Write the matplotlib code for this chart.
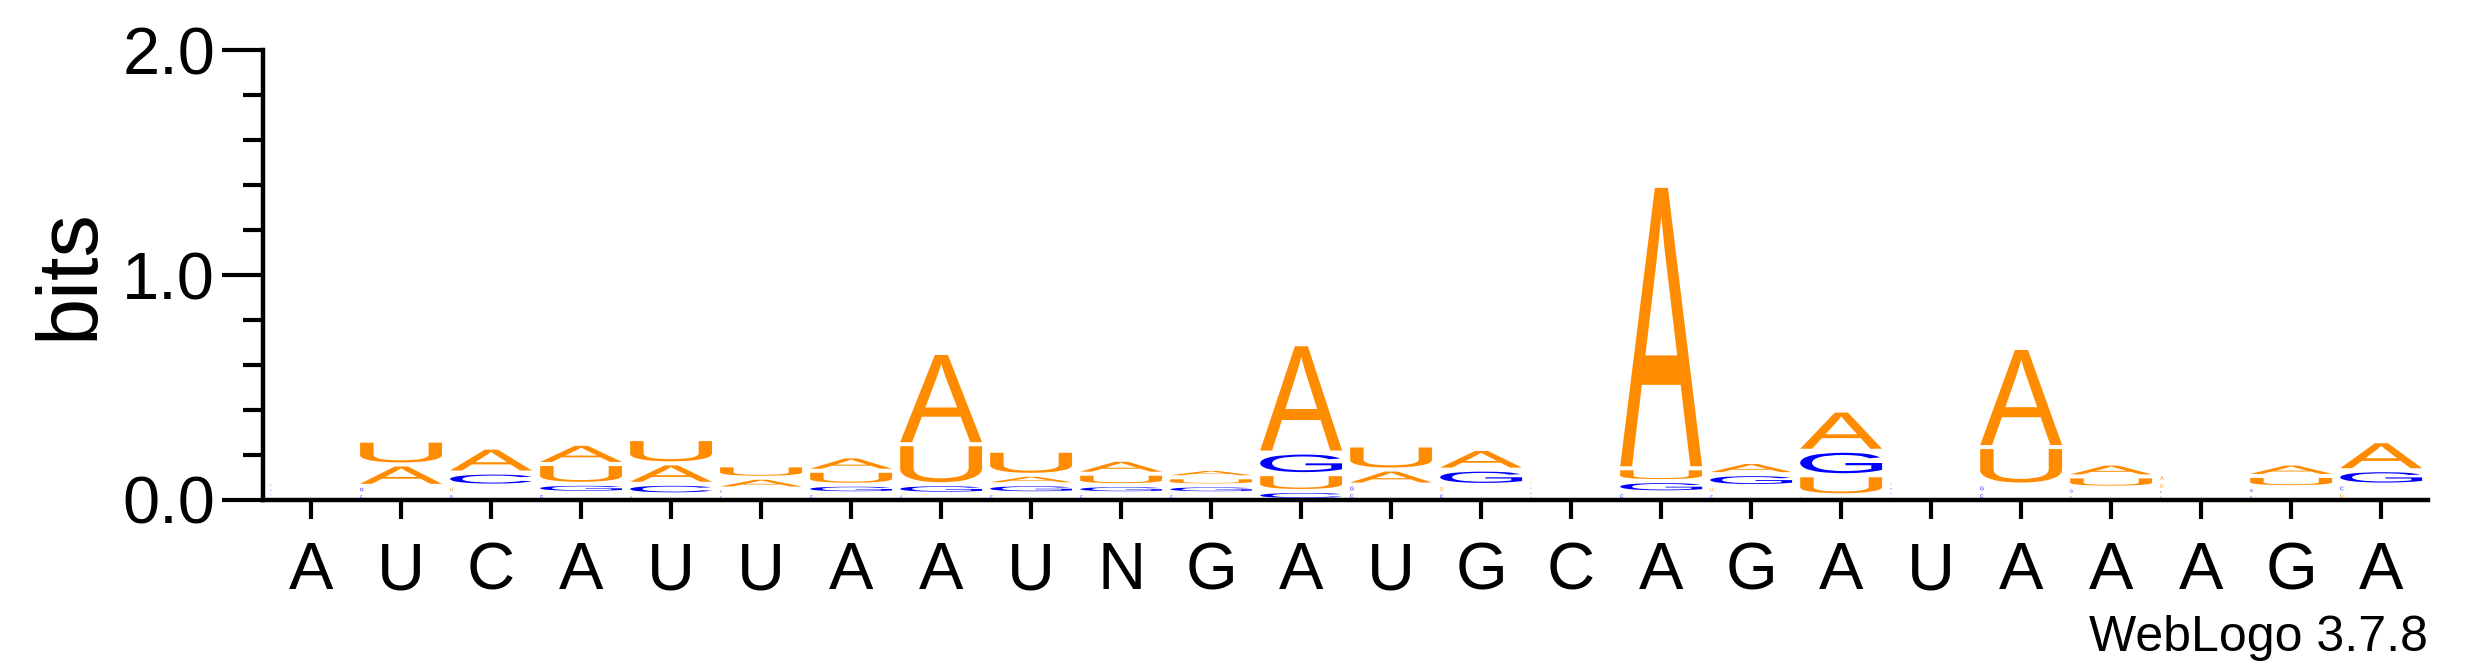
import numpy as np
import matplotlib
matplotlib.use("Agg")
import matplotlib.pyplot as plt
from matplotlib.textpath import TextPath
from matplotlib.font_manager import FontProperties
from matplotlib.patches import PathPatch
from matplotlib.transforms import Affine2D

# consensus sequence shown under the logo
seq_labels = list("AUCAUUAAUNGAUGCAGAUAAAGA")

# information content (bits) of each base per column
bits_A = [0.026, 0.095, 0.111, 0.090, 0.091, 0.048, 0.064, 0.406, 0.042, 0.062, 0.037, 0.482,
          0.067, 0.092, 0.025, 1.257, 0.054, 0.179, 0.024, 0.441, 0.057, 0.0345, 0.055, 0.129]
bits_C = [0.018, 0.030, 0.058, 0.032, 0.047, 0.025, 0.030, 0.028, 0.030, 0.030, 0.030, 0.040,
          0.034, 0.033, 0.021, 0.034, 0.030, 0.021, 0.020, 0.034, 0.025, 0.023, 0.027, 0.0345]
bits_G = [0.020, 0.033, 0.030, 0.040, 0.025, 0.026, 0.038, 0.042, 0.040, 0.036, 0.035, 0.096,
          0.0345, 0.068, 0.020, 0.050, 0.053, 0.109, 0.021, 0.0345, 0.030, 0.0232, 0.030, 0.064]
bits_U = [0.015, 0.106, 0.034, 0.088, 0.108, 0.055, 0.062, 0.178, 0.107, 0.051, 0.036, 0.075,
          0.107, 0.034, 0.022, 0.057, 0.032, 0.089, 0.019, 0.167, 0.050, 0.034, 0.050, 0.034]

letters = ["A", "C", "G", "U"]
colors = {"A": "#FF8C00", "U": "#FF8C00", "C": "#0000FF", "G": "#0000FF"}

fig = plt.figure(figsize=(24.75, 6.67), dpi=100)
ax = fig.add_axes([0.1063, 0.2504, 0.981 - 0.1063, 0.9243 - 0.2504])
ax.set_xlim(0.467, 24.52)
ax.set_ylim(0, 2)

glyph_font = FontProperties(family="Liberation Sans")
px_per_x = 90.0      # pixels per column
px_per_bit = 224.75  # pixels per bit
col_w = 0.91
pad = 0.009


def draw_letter(ch, xc, y0, h):
    tp = TextPath((0, 0), ch, size=1, prop=glyph_font)
    ext = tp.get_extents()
    ink_h = max(h - 2 * pad, h * 0.3)
    yb = y0 + (h - ink_h) / 2
    if h < 0.035:
        # tiny letters keep their natural shape at the left of the column
        w = ink_h * px_per_bit * ext.width / ext.height / px_per_x
    else:
        w = col_w
    xl = xc - col_w / 2
    t = (Affine2D().translate(-ext.x0, -ext.y0)
         .scale(w / ext.width, ink_h / ext.height)
         .translate(xl, yb))
    ax.add_patch(PathPatch(t.transform_path(tp), facecolor=colors[ch],
                           edgecolor="none", lw=0))


table = {"A": bits_A, "C": bits_C, "G": bits_G, "U": bits_U}
for i in range(len(seq_labels)):
    col = sorted(((table[l][i], l) for l in letters))
    y = 0.0
    for h, l in col:
        draw_letter(l, i + 1, y, h)
        y += h

for s in ["top", "right"]:
    ax.spines[s].set_visible(False)
for s in ["left", "bottom"]:
    ax.spines[s].set_linewidth(3.2)

ax.set_xticks(np.arange(1, len(seq_labels) + 1))
ax.set_xticklabels(seq_labels, family="Liberation Sans")
ax.set_yticks([0, 1, 2])
ax.set_yticklabels(["0.0", "1.0", "2.0"], family="Liberation Sans")
ax.set_yticks(np.arange(0, 2.01, 0.2), minor=True)
ax.tick_params(axis="y", which="major", length=29.5, width=3, labelsize=48, pad=5)
ax.tick_params(axis="y", which="minor", length=14.4, width=3)
ax.tick_params(axis="x", length=13.7, width=3, labelsize=48, pad=16)

fig.text(0.0283, 0.589, "bits", rotation=90, fontsize=61, ha="center", va="center",
         family="Liberation Sans")
fig.text(0.981, 0.024, "WebLogo 3.7.8", ha="right", va="baseline", fontsize=36,
         family="Liberation Sans")

fig.savefig("out.png", dpi=100)
